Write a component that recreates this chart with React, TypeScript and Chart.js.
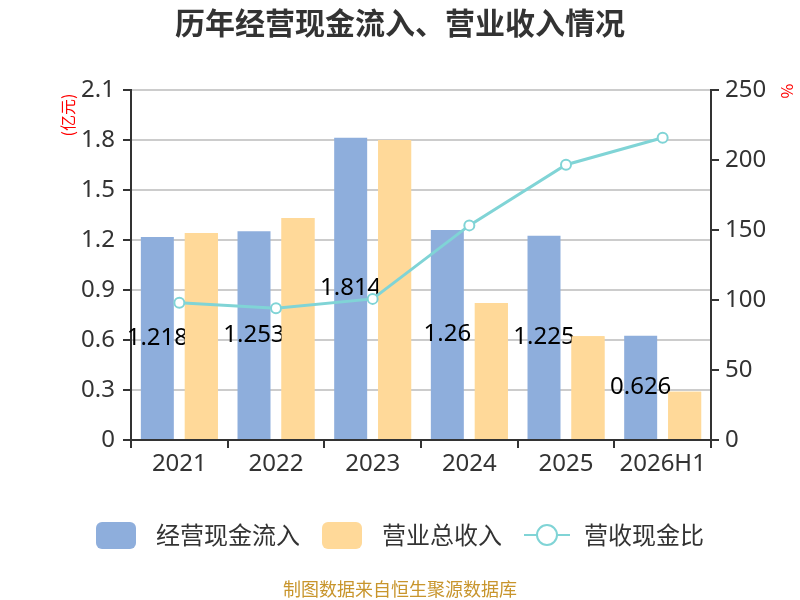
import React, { useEffect, useRef } from "react";
import { Chart, registerables, Plugin } from "chart.js";

Chart.register(...registerables);

const years = ["2021", "2022", "2023", "2024", "2025", "2026H1"];
const cashInflow = [1.218, 1.253, 1.814, 1.26, 1.225, 0.626];
const revenue = [1.242, 1.332, 1.8, 0.822, 0.623, 0.29];
const cashRatio = [98.1, 94.1, 100.8, 153.3, 196.6, 215.9];

const leftTicks = [0, 0.3, 0.6, 0.9, 1.2, 1.5, 1.8, 2.1];
const rightTicks = [0, 50, 100, 150, 200, 250];

const FONT = "'Noto Sans', 'Noto Sans CJK SC', sans-serif";
const CJK = "'Noto Sans CJK SC', 'Noto Sans', sans-serif";
const BLUE = "#8eaedc";
const ORANGE = "#ffd999";
const TEAL = "#80d4d6";
const DARK = "#333333";

// value labels in the middle of the blue bars; the orange bars are painted
// again afterwards so they sit over the labels like in the original
const barLabels: Plugin<"bar"> = {
  id: "barLabels",
  afterDatasetDraw(chart, args) {
    if (args.index !== 0) return;
    const ctx = chart.ctx;
    ctx.save();
    ctx.font = `24px ${FONT}`;
    ctx.fillStyle = "#000";
    ctx.textAlign = "center";
    ctx.textBaseline = "middle";
    args.meta.data.forEach((el: any, i: number) => {
      const y = (el.y + el.base) / 2;
      ctx.fillText(String(cashInflow[i]), el.x, y);
    });
    ctx.restore();
    chart.getDatasetMeta(1).data.forEach((el: any) => el.draw(ctx));
  },
};

const decorations: Plugin<"bar"> = {
  id: "decorations",
  afterDraw(chart) {
    const ctx = chart.ctx;
    const w = chart.width;
    ctx.save();

    // title
    ctx.fillStyle = DARK;
    ctx.textAlign = "center";
    ctx.textBaseline = "middle";
    ctx.font = `bold 30px ${CJK}`;
    ctx.fillText("历年经营现金流入、营业收入情况", w / 2, 23);

    // axis units
    ctx.fillStyle = "#ff0000";
    ctx.font = `16px ${CJK}`;
    ctx.save();
    ctx.translate(68, 115);
    ctx.rotate(-Math.PI / 2);
    ctx.fillText("(亿元)", 0, 0);
    ctx.restore();
    ctx.save();
    ctx.translate(787, 91);
    ctx.rotate(Math.PI / 2);
    ctx.fillText("%", 0, 0);
    ctx.restore();

    // legend
    const names = ["经营现金流入", "营业总收入", "营收现金比"];
    ctx.font = `24px ${CJK}`;
    const symW = 40;
    const symGap = 20;
    const itemGap = 22;
    const widths = names.map((n) => ctx.measureText(n).width);
    const total =
      widths.reduce((a, b) => a + b, 0) + names.length * (symW + symGap) + itemGap * (names.length - 1);
    let x = w / 2 - total / 2;
    const cy = 535;
    names.forEach((n, i) => {
      if (i < 2) {
        ctx.fillStyle = i === 0 ? BLUE : ORANGE;
        ctx.beginPath();
        ctx.roundRect(x, cy - 13, symW, 27, 6);
        ctx.fill();
      } else {
        ctx.strokeStyle = TEAL;
        ctx.lineWidth = 2;
        ctx.beginPath();
        ctx.moveTo(x, cy);
        ctx.lineTo(x + symW + 6, cy);
        ctx.stroke();
        ctx.beginPath();
        ctx.arc(x + (symW + 6) / 2, cy, 10, 0, Math.PI * 2);
        ctx.fillStyle = "#fff";
        ctx.fill();
        ctx.stroke();
      }
      ctx.fillStyle = DARK;
      ctx.textAlign = "left";
      ctx.fillText(n, x + symW + symGap, cy);
      x += symW + symGap + widths[i] + itemGap;
    });

    // source note
    ctx.fillStyle = "#c8952c";
    ctx.textAlign = "center";
    ctx.font = `18px ${CJK}`;
    ctx.fillText("制图数据来自恒生聚源数据库", w / 2, 589);

    ctx.restore();
  },
};

export default function App() {
  const canvasRef = useRef<HTMLCanvasElement | null>(null);

  useEffect(() => {
    const ctx = canvasRef.current?.getContext("2d");
    if (!ctx) return;

    const chart = new Chart(ctx, {
      type: "bar",
      data: {
        labels: years,
        datasets: [
          {
            label: "经营现金流入",
            data: cashInflow,
            backgroundColor: BLUE,
            yAxisID: "y",
          },
          {
            label: "营业总收入",
            data: revenue,
            backgroundColor: ORANGE,
            yAxisID: "y",
          },
          {
            type: "line",
            label: "营收现金比",
            data: cashRatio,
            borderColor: TEAL,
            borderWidth: 3,
            pointRadius: 5,
            pointBackgroundColor: "#fff",
            pointBorderColor: TEAL,
            pointBorderWidth: 2,
            yAxisID: "y1",
            order: -1,
          } as any,
        ],
      },
      options: {
        responsive: false,
        animation: false,
        devicePixelRatio: 1,
        layout: { padding: { top: 90, left: 0, right: 0, bottom: 0 } },
        datasets: {
          bar: { categoryPercentage: 0.91, barPercentage: 0.75 },
        },
        plugins: {
          legend: { display: false },
          title: { display: false },
          tooltip: { enabled: false },
        },
        scales: {
          x: {
            grid: {
              drawOnChartArea: false,
              drawTicks: true,
              tickLength: 8,
              color: DARK,
              lineWidth: 2,
              offset: true,
            },
            border: { color: DARK, width: 2 },
            ticks: { color: DARK, font: { family: FONT, size: 24 }, padding: 2 },
            afterFit: (s: any) => {
              s.height = 160;
            },
          },
          y: {
            position: "left",
            min: 0,
            max: 2.1,
            afterBuildTicks: (s: any) => {
              s.ticks = leftTicks.map((v) => ({ value: v }));
            },
            grid: { color: "#cccccc", lineWidth: 2, tickColor: DARK, tickLength: 8 },
            border: { color: DARK, width: 2 },
            ticks: {
              color: DARK,
              font: { family: FONT, size: 24 },
              padding: 8,
              callback: (v: any) => String(Number(Number(v).toFixed(1))),
            },
            afterFit: (s: any) => {
              s.width = 131;
            },
          },
          y1: {
            position: "right",
            min: 0,
            max: 250,
            afterBuildTicks: (s: any) => {
              s.ticks = rightTicks.map((v) => ({ value: v }));
            },
            grid: { drawOnChartArea: false, color: DARK, lineWidth: 2, tickLength: 8 },
            border: { color: DARK, width: 2 },
            ticks: { color: DARK, font: { family: FONT, size: 24 }, padding: 6 },
            afterFit: (s: any) => {
              s.width = 89;
            },
          },
        },
      },
      plugins: [barLabels, decorations],
    });

    return () => {
      chart.destroy();
    };
  }, []);

  return (
    <div style={{ position: "fixed", left: 0, top: 0, width: 800, height: 600, background: "#fff" }}>
      <canvas ref={canvasRef} width={800} height={600} />
    </div>
  );
}
